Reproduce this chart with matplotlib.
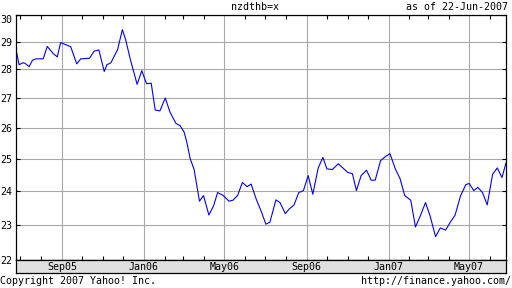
import pandas as pd
import matplotlib
matplotlib.use('Agg')
import matplotlib.pyplot as plt
import matplotlib.dates as mdates
from matplotlib.ticker import NullLocator

# nzd/thb weekly closes
dates = ['2005-06-24', '2005-06-29', '2005-07-05', '2005-07-08', '2005-07-14', '2005-07-19',
         '2005-07-24', '2005-08-04', '2005-08-10', '2005-08-19', '2005-08-25', '2005-08-30',
         '2005-09-06', '2005-09-14', '2005-09-23', '2005-09-29', '2005-10-12', '2005-10-19',
         '2005-10-26', '2005-11-03', '2005-11-07', '2005-11-13', '2005-11-23', '2005-11-30',
         '2005-12-05', '2005-12-12', '2005-12-22', '2005-12-29', '2006-01-05', '2006-01-12',
         '2006-01-18', '2006-01-25', '2006-02-02', '2006-02-09', '2006-02-18', '2006-02-24',
         '2006-03-02', '2006-03-06', '2006-03-11', '2006-03-17', '2006-03-25', '2006-03-31',
         '2006-04-08', '2006-04-15', '2006-04-21', '2006-04-29', '2006-05-08', '2006-05-14',
         '2006-05-21', '2006-05-28', '2006-06-04', '2006-06-10', '2006-06-18', '2006-06-25',
         '2006-07-02', '2006-07-08', '2006-07-17', '2006-07-23', '2006-07-31', '2006-08-06',
         '2006-08-13', '2006-08-20', '2006-08-27', '2006-09-03', '2006-09-10', '2006-09-18',
         '2006-09-25', '2006-10-01', '2006-10-09', '2006-10-18', '2006-11-01', '2006-11-08',
         '2006-11-14', '2006-11-21', '2006-11-29', '2006-12-06', '2006-12-12', '2006-12-20',
         '2006-12-28', '2007-01-03', '2007-01-11', '2007-01-18', '2007-01-25', '2007-02-03',
         '2007-02-10', '2007-02-17', '2007-02-25', '2007-03-04', '2007-03-12', '2007-03-19',
         '2007-03-27', '2007-04-03', '2007-04-10', '2007-04-18', '2007-04-26', '2007-05-01',
         '2007-05-08', '2007-05-14', '2007-05-21', '2007-05-28', '2007-06-05', '2007-06-12',
         '2007-06-19', '2007-06-25']
rate = [28.78, 28.17, 28.24, 28.22, 28.10, 28.33,
        28.38, 28.38, 28.83, 28.57, 28.45, 28.97,
        28.90, 28.82, 28.20, 28.38, 28.40, 28.66,
        28.70, 27.93, 28.17, 28.24, 28.72, 29.45,
        29.07, 28.35, 27.48, 27.96, 27.50, 27.52,
        26.60, 26.57, 27.01, 26.53, 26.15, 26.08,
        25.87, 25.55, 25.02, 24.67, 23.70, 23.87,
        23.29, 23.56, 23.96, 23.88, 23.70, 23.73,
        23.88, 24.27, 24.14, 24.22, 23.74, 23.40,
        23.02, 23.08, 23.74, 23.66, 23.33, 23.47,
        23.59, 23.96, 24.02, 24.48, 23.91, 24.72,
        25.05, 24.69, 24.67, 24.85, 24.58, 24.54,
        24.02, 24.48, 24.65, 24.34, 24.34, 24.95,
        25.09, 25.17, 24.69, 24.39, 23.87, 23.73,
        22.94, 23.25, 23.66, 23.25, 22.66, 22.91,
        22.85, 23.08, 23.28, 23.85, 24.20, 24.24,
        24.02, 24.12, 23.96, 23.59, 24.52, 24.72,
        24.42, 24.88]

y_ticks = [22, 23, 24, 25, 26, 27, 28, 29, 30]
x_label_dates = ['2005-09-01', '2006-01-01', '2006-05-01', '2006-09-01', '2007-01-01', '2007-05-01']
x_labels = ['Sep05', 'Jan06', 'May06', 'Sep06', 'Jan07', 'May07']

MONO = 'DejaVu Sans Mono'
FS = 7.2
W, H = 512, 288
L, R, T, B = 15.7, 506, 15, 260
x0, x1 = pd.Timestamp('2005-06-24'), pd.Timestamp('2007-06-25')

fig = plt.figure(figsize=(W / 100, H / 100), dpi=100)
ax = fig.add_axes([L / W, 1 - B / H, (R - L) / W, (B - T) / H])
ax.plot(pd.to_datetime(dates), rate, color='#0000ff', lw=0.8)

ax.set_yscale('log')
ax.set_ylim(22, 30)
ax.set_xlim(x0, x1)
ax.set_yticks(y_ticks, labels=[str(v) for v in y_ticks])
ax.yaxis.set_minor_locator(NullLocator())
ax.set_xticks(pd.to_datetime(x_label_dates), labels=[])
ax.xaxis.set_minor_locator(mdates.MonthLocator())

ax.grid(True, which='major', color='#a8a8a8', lw=0.8)
ax.tick_params(axis='y', which='both', direction='in', length=3, width=0.8,
               left=True, right=True, pad=2.5, labelsize=FS)
ax.tick_params(axis='x', which='major', length=0)
ax.tick_params(axis='x', which='minor', direction='in', length=3, width=0.8,
               top=True, bottom=True)
for lab in ax.get_yticklabels():
    lab.set_fontfamily(MONO)
ax.get_yticklabels()[-1].set_va('top')
for s in ax.spines.values():
    s.set_linewidth(0.9)

# date strip under the plot
bar = fig.add_axes([L / W, 1 - 273 / H, (R - L) / W, 13 / H])
bar.set_facecolor('#e0e0e0')
bar.set_xlim(x0, x1)
bar.set_xticks([])
bar.set_yticks([])
for s in bar.spines.values():
    s.set_linewidth(0.9)
for d, t in zip(x_label_dates, x_labels):
    bar.text(pd.Timestamp(d), 0.45, t, transform=bar.get_xaxis_transform(),
             ha='center', va='center', family=MONO, fontsize=FS)

fig.text(255.5 / W, 1 - 7.5 / H, 'nzdthb=x', ha='center', va='center', family=MONO, fontsize=FS)
fig.text(508 / W, 1 - 7.5 / H, 'as of 22-Jun-2007', ha='right', va='center', family=MONO, fontsize=FS)
fig.text(0, 1 - 281.5 / H, 'Copyright 2007 Yahoo! Inc.', ha='left', va='center', family=MONO, fontsize=FS)
fig.text(511 / W, 1 - 281.5 / H, 'http://finance.yahoo.com/', ha='right', va='center', family=MONO, fontsize=FS)

fig.savefig('out.png', dpi=100)
